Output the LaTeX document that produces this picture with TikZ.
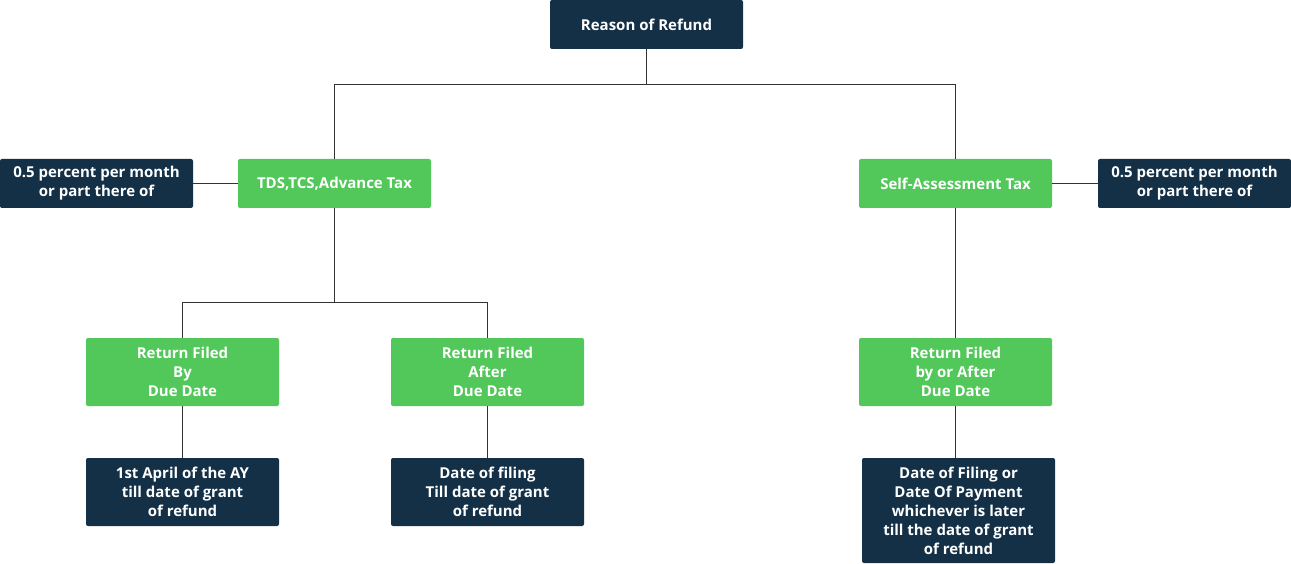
\documentclass[tikz,border=0pt]{standalone}
\usepackage{fontspec}
\setmainfont{Open Sans}
\definecolor{dk}{HTML}{133046}
\definecolor{gr}{HTML}{52C75A}
\begin{document}
\begin{tikzpicture}[x=1pt,y=-1pt,
  box/.style={minimum width=193pt,inner sep=2pt,align=center,text=white,font=\fontsize{15}{19}\selectfont\bfseries,rounded corners=2pt},
  dbox/.style={box,fill=dk},
  gbox/.style={box,fill=gr},
  ln/.style={draw=black!80,line width=0.8pt}]
\useasboundingbox (0,0) rectangle (1291,564);
\node[dbox,minimum height=49pt] (r) at (646.5,24.5) {Reason of Refund};
\node[gbox,minimum height=49pt] (t) at (334.5,183.5) {TDS,TCS,Advance Tax};
\node[gbox,minimum height=49pt] (s) at (955.5,183.5) {Self-Assessment Tax};
\node[dbox,minimum height=49pt] (l) at (96.5,183.5) {0.5 percent per month\\or part there of};
\node[dbox,minimum height=49pt] (rr) at (1194.5,183.5) {0.5 percent per month\\or part there of};
\node[gbox,minimum height=68pt] (a) at (182.5,372) {Return Filed\\By\\Due Date};
\node[gbox,minimum height=68pt] (b) at (487.5,372) {Return Filed\\After\\Due Date};
\node[gbox,minimum height=68pt] (c) at (955.5,372) {Return Filed\\by or After\\Due Date};
\node[dbox,minimum height=68pt] (a2) at (182.5,492) {1st April of the AY\\till date of grant\\of refund};
\node[dbox,minimum height=68pt] (b2) at (487.5,492) {Date of filing\\Till date of grant\\of refund};
\node[dbox,minimum height=105pt] (c2) at (958.5,510.5) {Date of Filing or\\Date Of Payment\\whichever is later\\till the date of grant\\of refund};
\draw[ln] (r.south) -- ++(0,35) -| (t.north);
\draw[ln] (r.south) -- ++(0,35) -| (s.north);
\draw[ln] (t.south) -- ++(0,94) -| (a.north);
\draw[ln] (t.south) -- ++(0,94) -| (b.north);
\draw[ln] (l) -- (t);
\draw[ln] (s) -- (rr);
\draw[ln] (s) -- (c);
\draw[ln] (a) -- (a2);
\draw[ln] (b) -- (b2);
\draw[ln] (c.south) -- (c.south |- c2.north);
\end{tikzpicture}
\end{document}
